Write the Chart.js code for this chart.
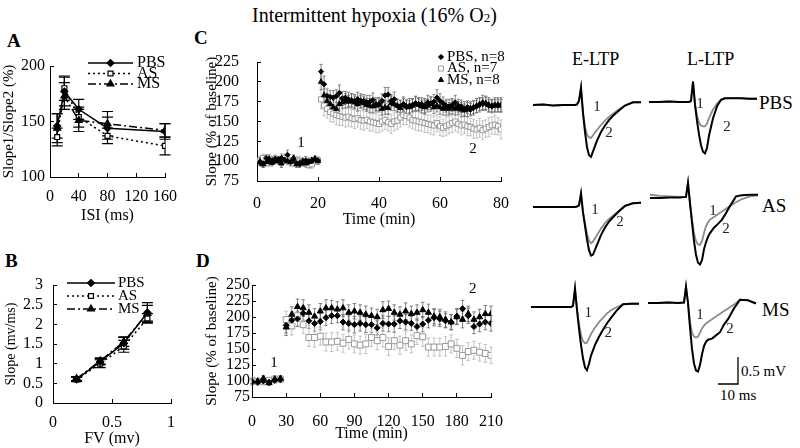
<!DOCTYPE html>
<html>
<head>
<meta charset="utf-8">
<title>Intermittent hypoxia (16% O2)</title>
<script src="https://cdn.jsdelivr.net/npm/chart.js@4.4.1/dist/chart.umd.min.js"></script>
<style>
  body { margin: 0; background: #fff; }
  #page { position: relative; width: 800px; height: 448px; overflow: hidden; font-family: 'Liberation Serif', 'Times New Roman', serif; color: #000; }
  #page canvas { position: absolute; }
  .txt { position: absolute; white-space: nowrap; line-height: 1; }
  .panel { font-weight: bold; font-size: 19px; }
</style>
</head>
<body>
<div id="page">
  <div class="txt" style="left:252px;top:5px;font-size:20px">Intermittent hypoxia (16% O<span style="font-size:13px">2</span>)</div>
  <div class="txt panel" style="left:7px;top:31px">A</div>
  <div class="txt panel" style="left:5px;top:251px">B</div>
  <div class="txt panel" style="left:194px;top:28px">C</div>
  <div class="txt panel" style="left:196px;top:251px">D</div>

  <div class="txt" style="left:572px;top:50px;font-size:18px">E-LTP</div>
  <div class="txt" style="left:687px;top:50px;font-size:18px">L-LTP</div>
  <div class="txt" style="left:759px;top:93px;font-size:19px">PBS</div>
  <div class="txt" style="left:762px;top:196px;font-size:19px">AS</div>
  <div class="txt" style="left:762px;top:300px;font-size:19px">MS</div>
  <div class="txt" style="left:741px;top:364px;font-size:15px">0.5 mV</div>
  <div class="txt" style="left:720px;top:388px;font-size:15px">10 ms</div>

  <canvas id="chartA" width="180" height="180" style="left:0;top:50px"></canvas>
  <canvas id="chartB" width="180" height="186" style="left:0;top:262px"></canvas>
  <canvas id="chartC" width="330" height="200" style="left:180px;top:30px"></canvas>
  <canvas id="chartD" width="330" height="186" style="left:180px;top:262px"></canvas>

  <canvas id="pbsE" width="110" height="100" style="left:533px;top:78px"></canvas>
  <canvas id="pbsL" width="110" height="100" style="left:649px;top:75px"></canvas>
  <canvas id="asE" width="110" height="100" style="left:533px;top:180px"></canvas>
  <canvas id="asL" width="110" height="100" style="left:650px;top:171px"></canvas>
  <canvas id="msE" width="110" height="100" style="left:531px;top:280px"></canvas>
  <canvas id="msL" width="110" height="111" style="left:648px;top:276px"></canvas>
</div>

<script>
// ---- A: paired-pulse ratio ----
const aISI = [10, 20, 40, 80, 160];
const aPBS = [146, 177, 161, 144, 141];
const aPBSErr = [11, 13, 9, 10, 7];
const aAS = [136, 180, 154, 137, 128];
const aASErr = [8, 11, 9, 7, 8];
const aMS = [144, 173, 151, 148, 142];
const aMSErr = [13, 12, 10, 11, 6];

// ---- B: input/output ----
const bFV = [0.2, 0.4, 0.6, 0.8];
const bPBS = [0.60, 1.05, 1.52, 2.30];
const bPBSErr = [0.06, 0.08, 0.15, 0.25];
const bAS = [0.60, 1.00, 1.44, 2.15];
const bASErr = [0.05, 0.10, 0.15, 0.12];
const bMS = [0.62, 1.07, 1.56, 2.28];
const bMSErr = [0.05, 0.08, 0.12, 0.20];

// ---- C: E-LTP time course (min) ----
const cTime = [1, 2, 3, 4, 5, 6, 7, 8, 9, 10, 11, 12, 13, 14, 15, 16, 17, 18, 19, 20,
  21, 22, 23, 24, 25, 26, 27, 28, 29, 30, 31, 32, 33, 34, 35, 36, 37, 38, 39, 40,
  41, 42, 43, 44, 45, 46, 47, 48, 49, 50, 51, 52, 53, 54, 55, 56, 57, 58, 59, 60,
  61, 62, 63, 64, 65, 66, 67, 68, 69, 70, 71, 72, 73, 74, 75, 76, 77, 78, 79, 80];
const cPBS = [98, 97, 104, 99, 101, 103, 100, 104, 102, 108, 99, 101, 97, 96, 98, 101, 99, 100, 102, 101,
  213, 197, 182, 181, 180, 182, 186, 179, 180, 178, 177, 176, 178, 175, 176, 174, 175, 177, 172, 172,
  176, 183, 184, 176, 178, 170, 169, 172, 168, 170, 171, 173, 172, 172, 170, 174, 173, 175, 180, 176,
  173, 170, 169, 171, 174, 170, 169, 166, 168, 165, 167, 169, 171, 172, 173, 170, 169, 171, 170, 171];
const cPBSErr = [4, 5, 4, 3, 5, 4, 4, 5, 4, 6, 4, 4, 3, 4, 4, 5, 4, 4, 3, 4,
  9, 10, 9, 8, 9, 8, 10, 9, 8, 9, 8, 8, 9, 8, 8, 9, 8, 9, 8, 8,
  9, 10, 9, 8, 9, 8, 8, 9, 8, 9, 8, 9, 8, 8, 9, 9, 8, 9, 10, 9,
  8, 8, 9, 8, 9, 8, 8, 9, 8, 8, 9, 8, 9, 8, 9, 8, 8, 9, 8, 9];
const cAS = [101, 104, 99, 98, 100, 103, 101, 99, 104, 102, 100, 98, 101, 100, 99, 97, 95, 96, 100, 101,
  178, 170, 166, 162, 160, 158, 157, 156, 155, 156, 154, 153, 154, 152, 151, 152, 150, 149, 148, 147,
  150, 152, 149, 147, 150, 151, 155, 158, 157, 155, 152, 151, 150, 149, 148, 147, 146, 145, 148, 144,
  142, 144, 146, 148, 150, 147, 145, 146, 144, 143, 141, 140, 142, 139, 141, 143, 145, 146, 144, 140];
const cASErr = [5, 5, 6, 5, 4, 5, 5, 6, 5, 5, 4, 5, 5, 6, 5, 5, 4, 5, 5, 5,
  12, 13, 12, 12, 11, 12, 12, 11, 12, 12, 11, 12, 11, 12, 12, 11, 12, 11, 12, 11,
  12, 12, 11, 12, 12, 11, 12, 12, 11, 12, 11, 12, 12, 11, 12, 11, 12, 12, 11, 12,
  11, 12, 11, 12, 12, 11, 12, 11, 12, 11, 12, 11, 12, 12, 11, 12, 11, 12, 11, 12];
const cMS = [100, 96, 99, 103, 98, 100, 102, 97, 101, 100, 99, 104, 96, 98, 100, 97, 99, 101, 103, 100,
  200, 183, 176, 172, 168, 166, 172, 174, 176, 175, 176, 174, 172, 176, 173, 171, 170, 169, 170, 171,
  166, 168, 167, 173, 172, 170, 167, 171, 169, 168, 170, 172, 171, 169, 168, 170, 172, 168, 170, 168,
  166, 167, 166, 168, 166, 167, 165, 164, 165, 167, 168, 170, 172, 174, 173, 171, 170, 170, 171, 170];
const cMSErr = [5, 4, 4, 5, 4, 3, 4, 5, 4, 4, 5, 4, 4, 3, 4, 4, 5, 4, 4, 4,
  10, 9, 9, 8, 9, 8, 9, 8, 9, 8, 9, 8, 9, 9, 8, 8, 9, 8, 8, 9,
  8, 9, 8, 9, 8, 8, 9, 8, 9, 8, 8, 9, 8, 8, 9, 8, 9, 8, 8, 9,
  8, 9, 8, 9, 8, 8, 9, 8, 9, 8, 8, 9, 8, 9, 8, 9, 8, 8, 9, 8];

// ---- D: L-LTP time course (min) ----
const dTime = [0, 5, 10, 15, 20, 25, 30, 35, 40, 45, 50, 55, 60, 65, 70, 75, 80, 85, 90, 95, 100,
  105, 110, 115, 120, 125, 130, 135, 140, 145, 150, 155, 160, 165, 170, 175, 180, 185, 190, 195, 200, 205, 210];
const dPBS = [98, 98, 100, 98, 101, 102, 187, 195, 197, 206, 194, 190, 193, 199, 202, 202, 192, 190, 188, 190, 188,
  188, 183, 190, 189, 189, 194, 192, 190, 185, 189, 195, 199, 197, 194, 192, 201, 213, 202, 185, 189, 192, 190];
const dPBSErr = [4, 4, 3, 4, 4, 4, 12, 13, 12, 11, 12, 12, 13, 12, 12, 11, 12, 12, 13, 12, 12,
  12, 11, 12, 12, 13, 12, 12, 11, 12, 12, 12, 13, 12, 11, 12, 12, 13, 12, 11, 12, 12, 12];
const dAS = [101, 99, 99, 101, 103, 103, 196, 186, 202, 188, 168, 168, 170, 161, 161, 162, 159, 165, 158, 156, 158,
  168, 163, 168, 154, 163, 156, 163, 158, 171, 169, 153, 153, 153, 154, 158, 151, 140, 146, 148, 145, 143, 140];
const dASErr = [5, 4, 5, 4, 5, 4, 13, 14, 15, 14, 14, 15, 14, 14, 15, 14, 14, 15, 14, 14, 15,
  14, 14, 15, 14, 14, 14, 15, 14, 14, 15, 14, 14, 14, 15, 14, 14, 15, 14, 14, 14, 14, 13];
const dMS = [100, 100, 104, 97, 103, 104, 184, 204, 216, 214, 207, 201, 209, 214, 214, 212, 214, 207, 209, 207, 204,
  202, 200, 211, 213, 207, 204, 209, 205, 207, 211, 207, 201, 200, 196, 192, 200, 196, 205, 196, 200, 205, 205];
const dMSErr = [4, 3, 4, 4, 3, 4, 13, 12, 12, 13, 12, 12, 12, 13, 12, 12, 13, 12, 12, 12, 13,
  12, 12, 13, 12, 12, 12, 13, 12, 12, 12, 13, 12, 12, 12, 12, 12, 13, 12, 12, 12, 13, 12];

// ---- sample fEPSP traces (ms, mV); 1 = baseline (grey), 2 = after tetanus (black) ----
const traceMs = [0, 5, 10, 15, 18, 19, 20, 21, 22, 23, 24, 25, 26, 27, 28, 29, 30, 32, 34, 36, 38, 40, 43, 46, 50, 54];
const pbsE1 = [0, 0.01, -0.01, 0, 0, 0, 0, 0, 0.01, 0.08, 0.32, -0.15, -0.4, -0.55, -0.6, -0.61, -0.56, -0.46, -0.37, -0.29, -0.22, -0.16, -0.08, -0.01, 0.05, 0.05];
const pbsE2 = [0, 0.01, -0.01, 0, 0, 0, 0, 0, 0.01, 0.08, 0.32, -0.15, -0.5, -0.78, -0.93, -0.96, -0.86, -0.66, -0.5, -0.38, -0.28, -0.2, -0.1, -0.01, 0.05, 0.05];
const pbsL1 = [0, 0, 0.01, 0, 0, 0, 0, 0.02, 0.38, -0.05, -0.25, -0.38, -0.44, -0.45, -0.45, -0.4, -0.3, -0.14, -0.03, 0.04, 0.07, 0.07, 0.07, 0.07, 0.06, 0.06];
const pbsL2 = [0, 0, 0.01, 0, 0, 0, 0, 0.02, 0.38, -0.05, -0.35, -0.6, -0.8, -0.92, -0.95, -0.85, -0.62, -0.3, -0.08, 0.04, 0.07, 0.07, 0.07, 0.07, 0.06, 0.06];
const asE1 = [0, 0, 0, 0, 0, 0, 0, 0, 0.01, 0.03, 0.25, -0.1, -0.3, -0.5, -0.62, -0.67, -0.64, -0.52, -0.4, -0.3, -0.22, -0.16, -0.07, 0.02, 0.07, 0.08];
const asE2 = [0, 0, 0, 0, 0, 0, 0, 0, 0.01, 0.03, 0.25, -0.1, -0.35, -0.6, -0.8, -0.9, -0.88, -0.7, -0.52, -0.38, -0.27, -0.19, -0.08, 0.02, 0.07, 0.08];
const asL1 = [0.06, 0.04, 0.03, 0.02, 0.02, 0.28, -0.1, -0.4, -0.65, -0.8, -0.86, -0.87, -0.8, -0.65, -0.52, -0.45, -0.4, -0.35, -0.3, -0.25, -0.2, -0.15, -0.08, -0.02, 0.03, 0.05];
const asL2 = [0, 0, 0.01, 0.01, 0.02, 0.28, -0.1, -0.45, -0.8, -1.05, -1.2, -1.23, -1.15, -0.95, -0.82, -0.72, -0.65, -0.55, -0.48, -0.4, -0.28, -0.15, 0.03, 0.05, 0.06, 0.06];
const msE1 = [0, 0, 0, 0, 0, 0, 0, 0.02, 0.34, -0.05, -0.32, -0.52, -0.63, -0.67, -0.66, -0.58, -0.5, -0.38, -0.28, -0.2, -0.12, -0.06, 0, 0.05, 0.06, 0.06];
const msE2 = [0, 0, 0, 0, 0, 0, 0, 0.02, 0.34, -0.05, -0.4, -0.7, -0.95, -1.12, -1.17, -1.05, -0.9, -0.7, -0.55, -0.42, -0.3, -0.2, -0.06, 0.05, 0.06, 0.06];
const msL1 = [0, 0, 0.01, 0, 0.01, 0.3, 0, -0.35, -0.55, -0.62, -0.64, -0.62, -0.55, -0.47, -0.42, -0.38, -0.35, -0.3, -0.25, -0.2, -0.15, -0.1, -0.03, 0.06, 0.05, -0.01];
const msL2 = [0, 0, 0.01, 0, 0.01, 0.3, 0, -0.45, -0.85, -1.12, -1.25, -1.27, -1.15, -0.95, -0.8, -0.72, -0.68, -0.66, -0.6, -0.54, -0.4, -0.3, -0.1, 0.06, 0.05, -0.01];
// scale bar: 10 ms by 0.5 mV
const barMs = [35, 45, 45];
const barMv = [-1.5, -1.5, -1.0];

const SERIF = "'Liberation Serif', 'Times New Roman', serif";
Chart.defaults.font.family = SERIF;
Chart.defaults.color = '#000';
Chart.defaults.animation = false;
Chart.defaults.plugins.legend.display = false;
Chart.defaults.plugins.tooltip.enabled = false;

const pts = (xs, ys) => xs.map((x, i) => ({ x: x, y: ys[i] }));

// vertical SEM bars drawn under the markers
const errorBars = {
  id: 'errorBars',
  beforeDatasetsDraw(chart) {
    const ctx = chart.ctx;
    chart.data.datasets.forEach((ds, i) => {
      if (!ds.errors) return;
      const meta = chart.getDatasetMeta(i);
      const ys = chart.scales[meta.yAxisID];
      ctx.save();
      ctx.strokeStyle = ds.errorColor;
      ctx.lineWidth = ds.errorWidth || 1;
      ctx.beginPath();
      meta.data.forEach((p, j) => {
        const v = ds.data[j].y, e = ds.errors[j];
        const t = ys.getPixelForValue(v + e), b = ys.getPixelForValue(v - e);
        const c = ds.capHalf || 0;
        ctx.moveTo(p.x, t); ctx.lineTo(p.x, b);
        if (c) {
          ctx.moveTo(p.x - c, t); ctx.lineTo(p.x + c, t);
          ctx.moveTo(p.x - c, b); ctx.lineTo(p.x + c, b);
        }
      });
      ctx.stroke();
      ctx.restore();
    });
  }
};

// hand-placed legend (line + marker + label)
const keyBox = {
  id: 'keyBox',
  afterDraw(chart, args, o) {
    if (!o.rows) return;
    const ctx = chart.ctx;
    o.rows.forEach((label, i) => {
      const ds = chart.data.datasets[i];
      const y = o.y + i * o.step;
      let mx = o.x;
      if (o.len) {
        ctx.save();
        ctx.strokeStyle = ds.borderColor;
        ctx.lineWidth = ds.borderWidth;
        ctx.setLineDash(ds.borderDash || []);
        ctx.beginPath(); ctx.moveTo(o.x, y); ctx.lineTo(o.x + o.len, y); ctx.stroke();
        ctx.restore();
        mx = o.x + o.len / 2;
      }
      ctx.save();
      ctx.fillStyle = ds.pointBackgroundColor;
      ctx.strokeStyle = ds.pointBorderColor;
      ctx.lineWidth = ds.pointBorderWidth;
      Chart.helpers.drawPoint(ctx, { pointStyle: ds.pointStyle, radius: ds.pointRadius, borderWidth: ds.pointBorderWidth, rotation: 0 }, mx, y);
      ctx.restore();
      ctx.save();
      ctx.font = o.size + 'px ' + SERIF;
      ctx.fillStyle = '#000';
      ctx.textBaseline = 'middle';
      ctx.fillText(label, o.x + (o.len || 0) + o.gap, y);
      ctx.restore();
    });
  }
};

// small numbers placed in data units
const notes = {
  id: 'notes',
  afterDatasetsDraw(chart, args, o) {
    if (!o.items) return;
    const ctx = chart.ctx, xs = chart.scales.x, ys = chart.scales.y;
    ctx.save();
    ctx.font = (o.size || 15) + 'px ' + SERIF;
    ctx.fillStyle = o.color || '#000';
    ctx.textAlign = 'center';
    ctx.textBaseline = 'middle';
    o.items.forEach(n => ctx.fillText(n.text, xs.getPixelForValue(n.x), ys.getPixelForValue(n.y)));
    ctx.restore();
  }
};

// keep the plot box where the layout padding puts it
function noEdgePadding(s) {
  s.paddingLeft = 0; s.paddingRight = 0; s.paddingTop = 0; s.paddingBottom = 0;
}

function axisX(min, max, step, title, h, pad, titlePad) {
  return {
    type: 'linear', min: min, max: max,
    border: { color: '#000', width: 1 },
    grid: { display: true, drawOnChartArea: false, drawTicks: true, tickLength: -4, color: '#000' },
    ticks: { stepSize: step, padding: pad, maxRotation: 0, autoSkip: false, font: { size: 16 }, callback: v => String(v) },
    title: { display: true, text: title, font: { size: 16 }, padding: { top: 0, bottom: titlePad } },
    afterFit: s => { s.height = h; noEdgePadding(s); }
  };
}

function axisY(min, max, step, title, w, pad, titleSize, titlePad) {
  return {
    type: 'linear', min: min, max: max,
    border: { color: '#000', width: 1 },
    grid: { display: true, drawOnChartArea: false, drawTicks: true, tickLength: -4, color: '#000' },
    ticks: { stepSize: step, padding: pad, autoSkip: false, font: { size: 16 }, callback: v => String(v) },
    title: { display: true, text: title, font: { size: titleSize }, padding: { top: titlePad, bottom: 0 } },
    afterFit: s => { s.width = w; noEdgePadding(s); }
  };
}

// line + marker series for A and B
function lineSet(xs, ys, err, style, dash, bg, r, order) {
  return {
    data: pts(xs, ys), errors: err, errorColor: '#000', errorWidth: 1.2, capHalf: 5.5,
    showLine: true, borderColor: '#000', borderWidth: 1.5, borderDash: dash,
    pointStyle: style, pointRadius: r, pointBackgroundColor: bg, pointBorderColor: '#000', pointBorderWidth: 1.2,
    order: order
  };
}

// marker-only series for C and D
function dotSet(xs, ys, err, style, bg, border, errColor, r, cap, order) {
  return {
    data: pts(xs, ys), errors: err, errorColor: errColor, errorWidth: 0.8, capHalf: cap,
    showLine: false, borderColor: border,
    pointStyle: style, pointRadius: r, pointBackgroundColor: bg, pointBorderColor: border, pointBorderWidth: 1,
    order: order
  };
}

new Chart(document.getElementById('chartA'), {
  type: 'scatter',
  data: { datasets: [
    lineSet(aISI, aPBS, aPBSErr, 'rectRot', [], '#000', 3.5, 1),
    lineSet(aISI, aAS, aASErr, 'rect', [2, 3], '#fff', 3.5, 3),
    lineSet(aISI, aMS, aMSErr, 'triangle', [8, 3, 2, 3], '#000', 4, 2)
  ] },
  plugins: [errorBars, keyBox],
  options: {
    responsive: false,
    layout: { padding: { left: 0, top: 16, right: 15, bottom: 0 } },
    scales: {
      x: axisX(0, 160, 40, 'ISI (ms)', 53, 14, 5),
      y: axisY(100, 200, 50, 'Slope1/Slope2 (%)', 50, 9, 15, 0)
    },
    plugins: { keyBox: { rows: ['PBS', 'AS', 'MS'], x: 88, y: 13, step: 10.5, len: 45, gap: 4, size: 16 } }
  }
});

new Chart(document.getElementById('chartB'), {
  type: 'scatter',
  data: { datasets: [
    lineSet(bFV, bPBS, bPBSErr, 'rectRot', [], '#000', 3.5, 1),
    lineSet(bFV, bAS, bASErr, 'rect', [2, 3], '#fff', 3.5, 3),
    lineSet(bFV, bMS, bMSErr, 'triangle', [8, 3, 2, 3], '#000', 4, 2)
  ] },
  plugins: [errorBars, keyBox],
  options: {
    responsive: false,
    layout: { padding: { left: 0, top: 23, right: 9, bottom: 0 } },
    scales: {
      x: axisX(0, 1, 0.5, 'FV (mv)', 45, 14, 0),
      y: axisY(0, 3, 0.5, 'Slope (mv/ms)', 53, 14, 14, 3)
    },
    plugins: { keyBox: { rows: ['PBS', 'AS', 'MS'], x: 67, y: 21, step: 13, len: 48, gap: 3, size: 15 } }
  }
});

new Chart(document.getElementById('chartC'), {
  type: 'scatter',
  data: { datasets: [
    dotSet(cTime, cPBS, cPBSErr, 'rectRot', '#000', '#000', '#666', 2.6, 1.5, 1),
    dotSet(cTime, cAS, cASErr, 'rect', '#fff', '#999', '#b5b5b5', 3.6, 1.5, 3),
    dotSet(cTime, cMS, cMSErr, 'triangle', '#000', '#000', '#666', 3, 1.5, 2)
  ] },
  plugins: [errorBars, keyBox, notes],
  options: {
    responsive: false,
    layout: { padding: { left: 0, top: 32, right: 9, bottom: 0 } },
    scales: {
      x: axisX(0, 80, 20, 'Time (min)', 49, 17, 1),
      y: axisY(75, 225, 25, 'Slope (% of baseline)', 77, 22, 15, 23)
    },
    plugins: {
      keyBox: { rows: ['PBS, n=8', 'AS, n=7', 'MS, n=8'], x: 261, y: 27, step: 11.5, len: 0, gap: 6, size: 15 },
      notes: { size: 15, items: [{ text: '1', x: 14.4, y: 123 }, { text: '2', x: 70.8, y: 115 }] }
    }
  }
});

new Chart(document.getElementById('chartD'), {
  type: 'scatter',
  data: { datasets: [
    dotSet(dTime, dPBS, dPBSErr, 'rectRot', '#000', '#000', '#666', 3, 1.8, 1),
    dotSet(dTime, dAS, dASErr, 'rect', '#fff', '#999', '#b5b5b5', 4.2, 1.8, 3),
    dotSet(dTime, dMS, dMSErr, 'triangle', '#000', '#000', '#666', 3.5, 1.8, 2)
  ] },
  plugins: [errorBars, notes],
  options: {
    responsive: false,
    layout: { padding: { left: 0, top: 23, right: 19, bottom: 0 } },
    scales: {
      x: axisX(0, 210, 30, 'Time (min)', 51, 19, 5),
      y: axisY(75, 250, 25, 'Slope (% of baseline)', 72, 6, 15, 23)
    },
    plugins: { notes: { size: 15, items: [{ text: '1', x: 19.3, y: 128 }, { text: '2', x: 194, y: 244 }] } }
  }
});

function traceChart(id, grey, black, yMin, labels, extra) {
  const sets = [
    { data: pts(traceMs, grey), borderColor: '#8c8c8c', borderWidth: 1.8 },
    { data: pts(traceMs, black), borderColor: '#000', borderWidth: 2 }
  ];
  if (extra) sets.push(extra);
  new Chart(document.getElementById(id), {
    type: 'line',
    data: { datasets: sets.map((s, i) => Object.assign({ pointRadius: 0, tension: 0, fill: false, order: 5 - i }, s)) },
    plugins: [notes],
    options: {
      responsive: false,
      layout: { padding: 0 },
      scales: {
        x: { type: 'linear', min: 0, max: 55, display: false },
        y: { type: 'linear', min: yMin, max: 0.5, display: false }
      },
      plugins: { notes: { size: 15, color: '#222', items: labels } }
    }
  });
}

const yLow = 0.5 - 100 / 54;
traceChart('pbsE', pbsE1, pbsE2, yLow, [{ text: '1', x: 32, y: -0.04 }, { text: '2', x: 38, y: -0.52 }]);
traceChart('pbsL', pbsL1, pbsL2, yLow, [{ text: '1', x: 25.5, y: -0.04 }, { text: '2', x: 39, y: -0.46 }]);
traceChart('asE', asE1, asE2, yLow, [{ text: '1', x: 31, y: -0.05 }, { text: '2', x: 43.5, y: -0.28 }]);
traceChart('asL', asL1, asL2, yLow, [{ text: '1', x: 31.5, y: -0.25 }, { text: '2', x: 38, y: -0.57 }]);
traceChart('msE', msE1, msE2, yLow, [{ text: '1', x: 28.6, y: -0.12 }, { text: '2', x: 38.6, y: -0.49 }]);
traceChart('msL', msL1, msL2, 0.5 - 111 / 54, [{ text: '1', x: 26, y: -0.22 }, { text: '2', x: 41, y: -0.49 }],
  { data: pts(barMs, barMv), borderColor: '#000', borderWidth: 1.3 });
</script>
</body>
</html>
